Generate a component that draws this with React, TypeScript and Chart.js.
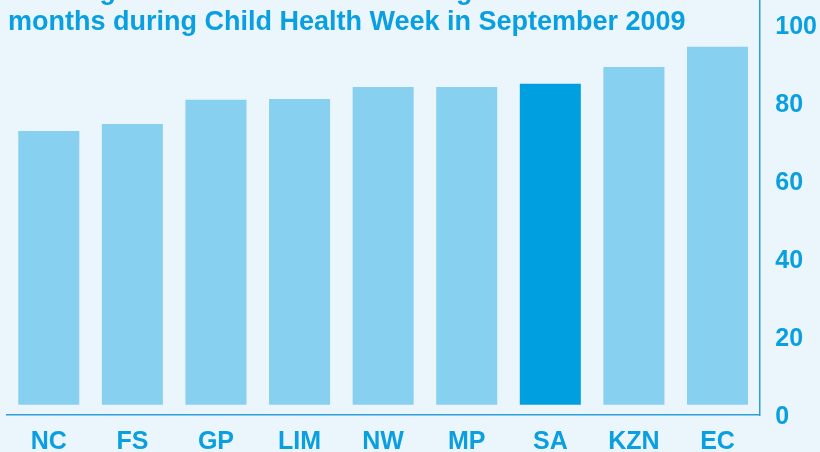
import React, { useEffect, useRef } from 'react';
import { Chart, registerables } from 'chart.js';

Chart.register(...registerables);

// ---- data ----
const categories = ['NC', 'FS', 'GP', 'LIM', 'NW', 'MP', 'SA', 'KZN', 'EC'];
const coverage = [72.8, 74.6, 80.8, 81.0, 84.1, 84.1, 84.9, 89.2, 94.4];
const yTicks = [0, 20, 40, 60, 80, 100];
const highlightCategory = 'SA';
const titleLines = [
  'Coverage of vitamin A doses among children 12\u201359',
  'months during Child Health Week in September 2009',
];

// ---- styles ----
const BG = '#eaf5fc';
const TEXT = '#0a9fe0';
const BAR = '#87d0f0';
const BAR_HL = '#00a0e0';
const LINE = '#2a9fd8';
const FONT = '"Liberation Sans", Arial, Helvetica, sans-serif';

const CANVAS_W = 833;
const CANVAS_H = 500;
const CANVAS_TOP = -31;

export default function App() {
  const canvasRef = useRef<HTMLCanvasElement | null>(null);

  useEffect(() => {
    const canvas = canvasRef.current;
    if (!canvas) return;
    const chart = new Chart(canvas, {
      type: 'bar',
      data: {
        labels: categories,
        datasets: [
          {
            data: coverage,
            base: 2.6,
            backgroundColor: categories.map((c) => (c === highlightCategory ? BAR_HL : BAR)),
            borderWidth: 0,
            categoryPercentage: 1,
            barPercentage: 0.73,
          },
        ],
      },
      options: {
        animation: false,
        responsive: false,
        maintainAspectRatio: false,
        layout: { padding: { left: 7, right: 0, top: 0, bottom: 0 } },
        plugins: {
          legend: { display: false },
          tooltip: { enabled: false },
          title: { display: false },
        },
        scales: {
          x: {
            grid: { display: false, drawTicks: false },
            border: { display: true, color: LINE, width: 1.5 },
            ticks: {
              color: TEXT,
              padding: 12,
              font: { family: FONT, size: 25, weight: 'bold' },
              maxRotation: 0,
            },
          },
          y: {
            position: 'right',
            min: 0,
            max: 106.4,
            grid: { display: false, drawTicks: false },
            border: { display: true, color: LINE, width: 1.5 },
            afterBuildTicks: (scale: any) => {
              scale.ticks = yTicks.map((v) => ({ value: v }));
            },
            ticks: {
              color: TEXT,
              padding: 16,
              labelOffset: 2,
              font: { family: FONT, size: 25, weight: 'bold' },
            },
          },
        },
      },
    });
    return () => chart.destroy();
  }, []);

  return (
    <div
      style={{
        position: 'fixed',
        left: 0,
        top: 0,
        width: 820,
        height: 452,
        overflow: 'hidden',
        background: BG,
      }}
    >
      <canvas
        ref={canvasRef}
        width={CANVAS_W}
        height={CANVAS_H}
        style={{ position: 'absolute', left: 0, top: CANVAS_TOP, width: CANVAS_W, height: CANVAS_H }}
      />
      <div
        style={{
          position: 'absolute',
          left: 8,
          top: -25.5,
          fontFamily: FONT,
          fontWeight: 'bold',
          fontSize: 27,
          lineHeight: '31px',
          color: TEXT,
          whiteSpace: 'nowrap',
        }}
      >
        {titleLines.map((t, i) => (
          <div key={i}>{t}</div>
        ))}
      </div>
    </div>
  );
}
